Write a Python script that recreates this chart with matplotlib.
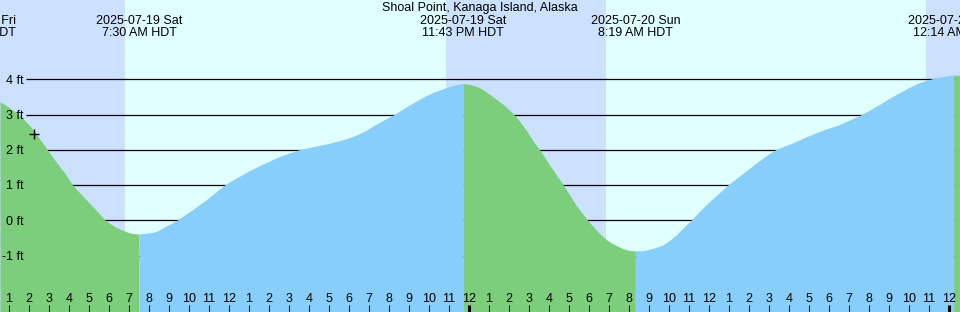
import numpy as np
import matplotlib
matplotlib.use('Agg')
import matplotlib.pyplot as plt
import matplotlib.transforms as mtransforms

plt.rcParams['font.family'] = ['Liberation Sans', 'DejaVu Sans']

station = "Shoal Point, Kanaga Island, Alaska"

# hours since 2025-07-19 00:00 HDT, tide height in feet
hours = [0.55, 0.8, 1.05, 1.55, 2.05, 2.55, 2.92, 3.3, 3.8, 4.18, 4.8, 5.3,
         5.82, 6.05, 6.3, 6.55, 6.8, 7.0, 7.15, 7.5, 7.85, 8.1, 8.39, 8.6,
         8.8, 9.1, 9.39, 10.15, 10.99, 11.77, 12.2, 12.65, 13.05, 13.49,
         13.9, 14.32, 14.9, 15.49, 16.2, 16.82, 17.65, 18.05, 18.49, 18.85,
         19.15, 19.75, 20.25, 20.75, 21.75, 22.25, 22.75, 23.2, 23.717,
         24.1, 24.42, 24.75, 25.09, 25.4, 25.75, 26.25, 26.6, 26.92, 27.2,
         27.54, 28.09, 28.72, 29.35, 29.94, 30.25, 30.52, 30.77, 31.02,
         31.35, 31.68, 32.0, 32.317, 32.7, 33.02, 33.35, 33.69, 34.0, 34.35,
         34.7, 35.1, 35.55, 36.02, 36.94, 37.69, 38.35, 38.95, 39.32, 39.7,
         40.12, 40.7, 41.29, 41.85, 42.45, 43.0, 43.62, 44.1, 44.62, 45.1,
         45.62, 46.05, 46.45, 46.75, 47.04, 47.3, 47.62, 47.9, 48.233, 48.55]
heights = [3.36, 3.28, 3.18, 2.97, 2.68, 2.30, 2.00, 1.70, 1.33, 1.00, 0.62,
           0.32, 0.00, -0.09, -0.18, -0.25, -0.31, -0.35, -0.37, -0.39, -0.37,
           -0.35, -0.31, -0.25, -0.18, -0.09, 0.00, 0.29, 0.64, 1.00, 1.15,
           1.29, 1.42, 1.54, 1.65, 1.76, 1.89, 2.00, 2.09, 2.16, 2.28, 2.35,
           2.45, 2.55, 2.66, 2.85, 3.00, 3.18, 3.51, 3.64, 3.74, 3.83, 3.88,
           3.85, 3.79, 3.69, 3.55, 3.42, 3.27, 3.00, 2.76, 2.51, 2.25, 2.00,
           1.52, 1.00, 0.43, 0.00, -0.20, -0.37, -0.50, -0.61, -0.71, -0.80,
           -0.85, -0.87, -0.86, -0.82, -0.77, -0.70, -0.58, -0.42, -0.22, 0.00,
           0.27, 0.53, 1.00, 1.33, 1.62, 1.87, 2.00, 2.09, 2.18, 2.33, 2.47,
           2.59, 2.70, 2.84, 3.00, 3.15, 3.32, 3.49, 3.65, 3.78, 3.89, 3.95,
           4.00, 4.04, 4.07, 4.10, 4.12, 4.11]

# high / low tide events
event_hours = [-0.68, 7.5, 23.717, 32.317, 48.233]
event_dates = ["2025-07-18 Fri", "2025-07-19 Sat", "2025-07-19 Sat",
               "2025-07-20 Sun", "2025-07-21 Mon"]
event_times = ["11:19 PM HDT", "7:30 AM HDT", "11:43 PM HDT",
               "8:19 AM HDT", "12:14 AM HDT"]

# sunset -> sunrise
nights = [(-6.0, 6.8), (22.85, 30.85), (46.85, 54.85)]

levels = [-1, 0, 1, 2, 3, 4]
tick_hours = list(range(1, 49))
tick_labels = [str((h - 1) % 12 + 1) for h in tick_hours]

now_hour = 2.25
now_height = 2.44

day_color = '#e0ffff'
night_color = '#cce0ff'
flood_color = '#87cefa'
ebb_color = '#7ccd7c'

t = np.array(hours)
h = np.array(heights)
xmin, xmax = 0.55, 48.55
ymin, ymax = -2.60, 6.25

fig = plt.figure(figsize=(9.6, 3.12), dpi=100)
ax = fig.add_axes([0, 0, 1, 1])
ax.set_xlim(xmin, xmax)
ax.set_ylim(ymin, ymax)
ax.set_facecolor(day_color)
for s in ax.spines.values():
    s.set_visible(False)

for a, b in nights:
    ax.axvspan(a, b, color=night_color, lw=0, zorder=0)

ax.hlines(levels, 1.85, xmax, color='black', lw=0.9, zorder=1)

# tide fill, green when falling, blue when rising
bounds = [t[0]] + [e for e in event_hours if t[0] < e < t[-1]] + [t[-1]]
falling = True
for a, b in zip(bounds[:-1], bounds[1:]):
    m = (t >= a - 1e-6) & (t <= b + 1e-6)
    ax.fill_between(t[m], h[m], ymin, color=ebb_color if falling else flood_color,
                    lw=0, zorder=2)
    falling = not falling

ax.plot(now_hour, now_height, '+', color='black', ms=7, mew=1, zorder=5)

for lv in levels:
    ax.text(1.75, lv - 0.12, f"{lv} ft", ha='right', va='baseline',
            fontsize=9, zorder=6)

trans = mtransforms.blended_transform_factory(ax.transData, ax.transAxes)
ax.text(0.5, 1 - 10.7 / 312, station, transform=ax.transAxes, ha='center',
        va='baseline', fontsize=9, zorder=6)
for eh, d, tm in zip(event_hours, event_dates, event_times):
    ax.text(eh, 1 - 24.3 / 312, d, transform=trans, ha='center', va='baseline',
            fontsize=9, zorder=6, clip_on=False)
    ax.text(eh, 1 - 36 / 312, tm, transform=trans, ha='center', va='baseline',
            fontsize=9, zorder=6, clip_on=False)

ax.set_axisbelow(False)
ax.set_xticks(tick_hours)
ax.set_yticks([])
ax.tick_params(axis='x', direction='in', length=5.0, width=0.75,
               labelbottom=False, color='black')
for tk, th in zip(ax.xaxis.get_major_ticks(), tick_hours):
    if th % 24 == 0:
        tk.tick1line.set_markeredgewidth(2.2)
for th, lab in zip(tick_hours, tick_labels):
    ax.text(th, 1 - 301.7 / 312, lab, transform=trans, ha='center',
            va='baseline', fontsize=9, zorder=6)

fig.savefig('out.png', dpi=100)
